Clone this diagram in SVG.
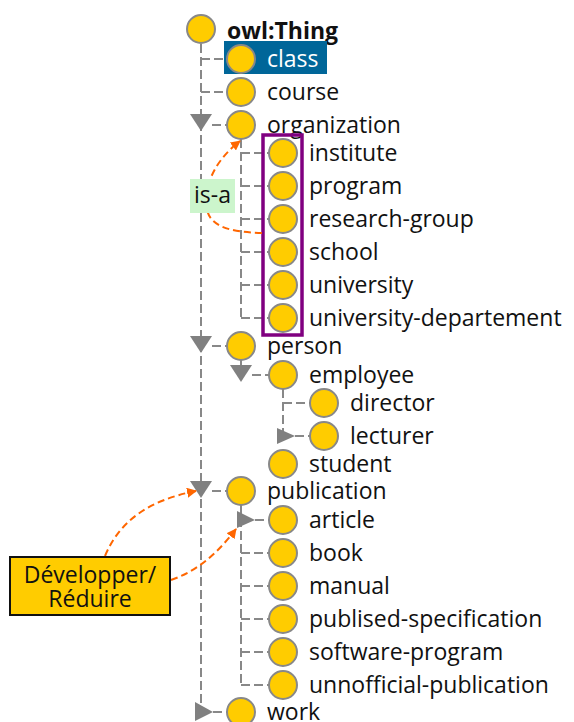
<svg xmlns="http://www.w3.org/2000/svg" width="574" height="722" viewBox="0 0 574 722">
<defs>
<style>
.c{fill:#ffcc00;stroke:#888;stroke-width:2}
.t{font-family:"Open Sans","DejaVu Sans",sans-serif;font-size:23px;fill:#111}
.ln{stroke:#888;stroke-width:2;fill:none;stroke-dasharray:9,4}
.tri{fill:#808080}
.ar{stroke:#ff6600;stroke-width:2;fill:none;stroke-dasharray:7,4}
</style>
<marker id="ah" viewBox="0 0 10 10" refX="9" refY="5" markerWidth="5" markerHeight="5" orient="auto" markerUnits="strokeWidth">
<path d="M0,0 L10,5 L0,10 Z" fill="#ff6600"/>
</marker>
</defs>
<g id="connectors">
<path class="ln" d="M201,44 V704"/>
<path class="ln" d="M201,59 H227 M201,92 H227 M212,125 H227 M212,346 H227 M212,491 H227 M213,712 H227"/>
<path class="ln" d="M241,139 V318 M241,153 H269 M241,186 H269 M241,219 H269 M241,252 H269 M241,285 H269 M241,318 H269"/>
<path class="ln" d="M241,360 V366 M252,375 H269"/>
<path class="ln" d="M283,389 V436 M283,403 H310 M295,436 H310"/>
<path class="ln" d="M241,505 V685 M255,520 H269 M241,553 H269 M241,586 H269 M241,619 H269 M241,652 H269 M241,685 H269"/>
<polygon class="tri" points="190,114 212,114 201,131"/>
<polygon class="tri" points="190,336 212,336 201,353"/>
<polygon class="tri" points="190,481 212,481 201,498"/>
<polygon class="tri" points="195,702 213,712 195,721"/>
<polygon class="tri" points="230,365 252,365 241,382"/>
<polygon class="tri" points="277,428 295,436 277,444"/>
<polygon class="tri" points="237,511 255,520 237,528"/>
</g>
<g id="owl-thing"><circle class="c" cx="201" cy="29" r="14"/><text class="t" x="227" y="39" font-weight="bold">owl:Thing</text></g>
<g id="class"><rect x="224" y="41" width="103" height="33" fill="#006699"/><circle class="c" cx="241" cy="59" r="14"/><text class="t" x="267" y="67" style="fill:#fff">class</text></g>
<g id="course"><circle class="c" cx="241" cy="92" r="14"/><text class="t" x="267" y="100">course</text></g>
<g id="organization"><circle class="c" cx="241" cy="125" r="14"/><text class="t" x="267" y="133">organization</text></g>
<g id="selection"><rect x="263" y="135" width="39" height="200" fill="none" stroke="#800080" stroke-width="3.5"/></g>
<g id="institute"><circle class="c" cx="283" cy="153" r="14"/><text class="t" x="309" y="161">institute</text></g>
<g id="program"><circle class="c" cx="283" cy="186" r="14"/><text class="t" x="309" y="194">program</text></g>
<g id="research-group"><circle class="c" cx="283" cy="219" r="14"/><text class="t" x="309" y="227">research-group</text></g>
<g id="school"><circle class="c" cx="283" cy="252" r="14"/><text class="t" x="309" y="260">school</text></g>
<g id="university"><circle class="c" cx="283" cy="285" r="14"/><text class="t" x="309" y="293">university</text></g>
<g id="university-departement"><circle class="c" cx="283" cy="318" r="14"/><text class="t" x="309" y="326">university-departement</text></g>
<g id="person"><circle class="c" cx="241" cy="346" r="14"/><text class="t" x="267" y="354">person</text></g>
<g id="employee"><circle class="c" cx="283" cy="375" r="14"/><text class="t" x="309" y="383">employee</text></g>
<g id="director"><circle class="c" cx="324" cy="403" r="14"/><text class="t" x="350" y="411">director</text></g>
<g id="lecturer"><circle class="c" cx="324" cy="436" r="14"/><text class="t" x="350" y="444">lecturer</text></g>
<g id="student"><circle class="c" cx="283" cy="464" r="14"/><text class="t" x="309" y="472">student</text></g>
<g id="publication"><circle class="c" cx="241" cy="491" r="14"/><text class="t" x="267" y="499">publication</text></g>
<g id="article"><circle class="c" cx="283" cy="520" r="14"/><text class="t" x="309" y="528">article</text></g>
<g id="book"><circle class="c" cx="283" cy="553" r="14"/><text class="t" x="309" y="561">book</text></g>
<g id="manual"><circle class="c" cx="283" cy="586" r="14"/><text class="t" x="309" y="594">manual</text></g>
<g id="publised-specification"><circle class="c" cx="283" cy="619" r="14"/><text class="t" x="309" y="627">publised-specification</text></g>
<g id="software-program"><circle class="c" cx="283" cy="652" r="14"/><text class="t" x="309" y="660">software-program</text></g>
<g id="unnofficial-publication"><circle class="c" cx="283" cy="685" r="14"/><text class="t" x="309" y="693">unnofficial-publication</text></g>
<g id="work"><circle class="c" cx="241" cy="712" r="14"/><text class="t" x="267" y="720">work</text></g>
<g id="annotations">
<path class="ar" d="M262,233 C225,232 205,225 206,200 C207,175 222,155 240,141" marker-end="url(#ah)"/>
<g id="is-a"><rect x="190" y="179" width="45" height="34" fill="#ccf5cc"/><text class="t" x="212.5" y="203" text-anchor="middle">is-a</text></g>
<path class="ar" d="M105,556 C120,520 150,500 196,491" marker-end="url(#ah)"/>
<path class="ar" d="M171,580 C200,570 220,550 236,529" marker-end="url(#ah)"/>
<g id="developper"><rect x="10" y="557" width="160" height="58" fill="#ffcc00" stroke="#111" stroke-width="2"/><text class="t" x="90" y="583" text-anchor="middle">Développer/</text><text class="t" x="90" y="607" text-anchor="middle">Réduire</text></g>
</g>
</svg>
